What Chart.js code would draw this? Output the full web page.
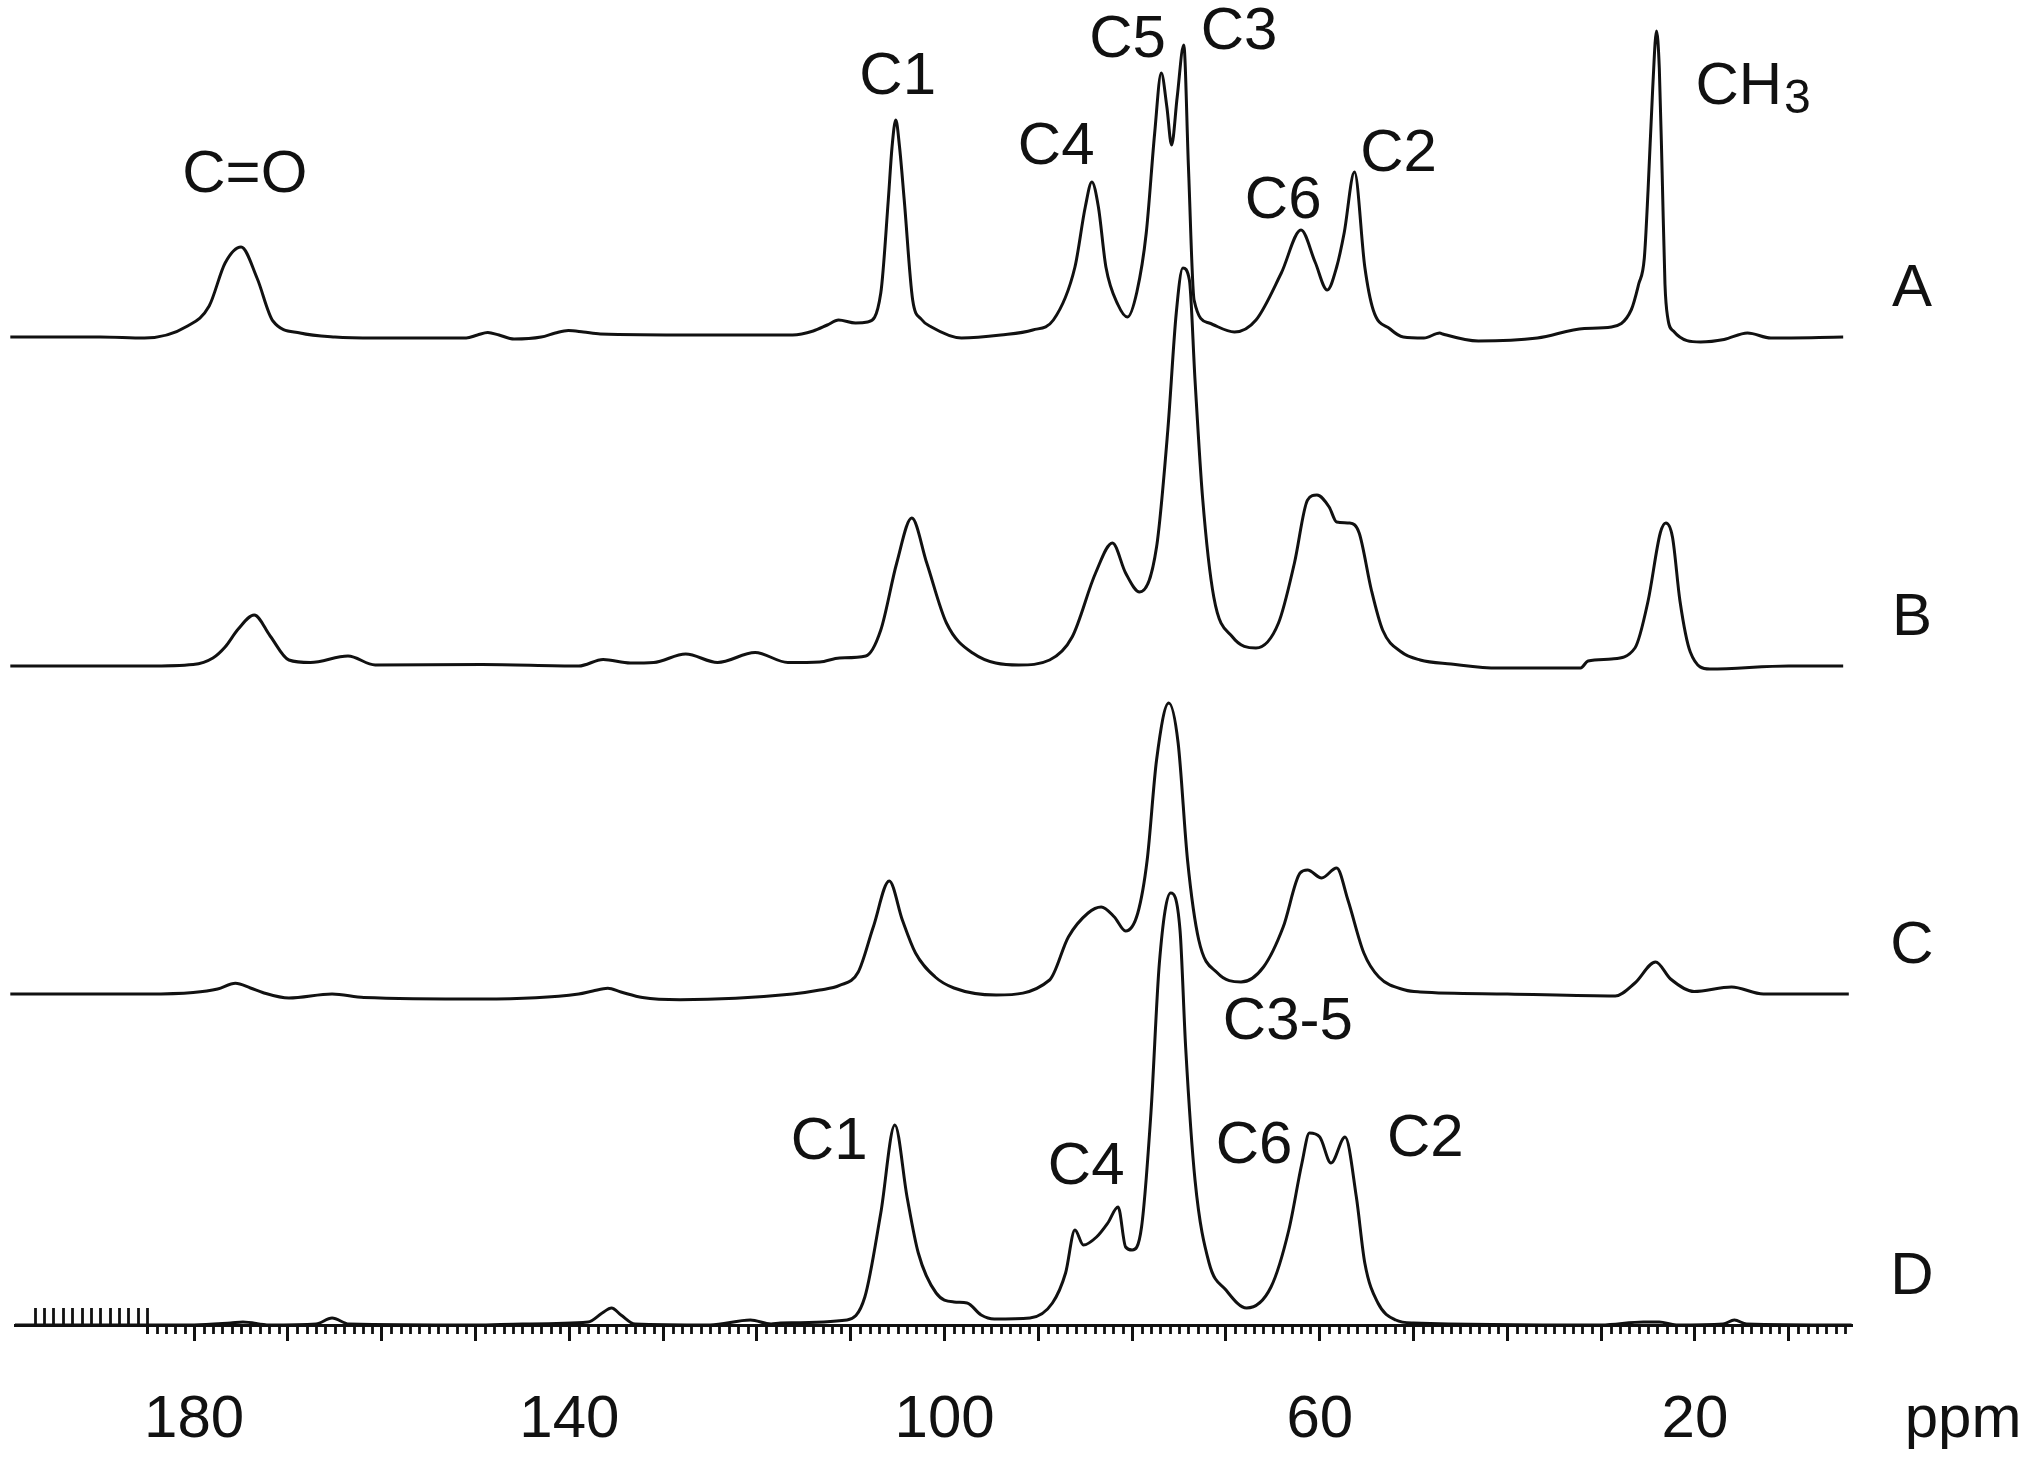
<!DOCTYPE html>
<html>
<head>
<meta charset="utf-8">
<script src="https://cdn.jsdelivr.net/npm/chart.js@4.4.1/dist/chart.umd.min.js"></script>
<style>
html,body{margin:0;padding:0;background:#ffffff;}
canvas{display:block;}
</style>
</head>
<body>
<canvas id="nmr" width="2032" height="1466"></canvas>
<script>
// ---------------- DATA (chemical shift in ppm, intensity in arbitrary units) ----------------
const spectrumNames = ['A', 'B', 'C', 'D'];

const spectrumA = [
  [199.6,0],[190,0],[185.3,-1],[180.7,11],[178.4,31],[176.7,74],[175.0,90],[173.3,59],[171.6,16],
  [168.7,4],[165,0],[160.7,-1],[151.0,-1],[149.8,2],[148.7,4.5],[147.5,2],[145.9,-2],[143.0,0],
  [141.5,4],[140.1,6.5],[138.5,5],[136.7,3],[126.5,2],[116.2,2],[114.0,6],[112.5,12],[111.3,17],
  [109.5,14],[108.2,15],[106.8,44],[106.0,137],[105.6,190],[105.2,217],[104.8,190],[104.3,137],
  [103.4,37],[102.5,18],[101.4,10],[98.2,-1],[94,2],[90.6,7],[88.4,17],[86.1,70],[85.0,130],
  [84.3,155],[83.6,130],[82.8,70],[81.5,32],[80.5,20],[79.5,45],[78.5,104],[77.6,204],[76.9,264],
  [76.3,230],[75.8,192],[75.2,240],[74.5,292],[74.0,170],[73.4,37],[71.8,14],[69.1,5],[66.8,17],
  [64.1,64],[62.0,107],[60.5,75],[59.2,47],[58.2,70],[57.4,104],[56.3,165],[55.2,70],[54.3,27],
  [52.5,8],[51.1,0],[48.9,-1],[47.2,4],[46.9,3],[43.1,-4],[36.8,-1],[31.8,8.5],[28.9,10],[26.8,27],
  [26.0,53],[25.4,79],[25.0,147],[24.5,250],[24.1,306],[23.8,268],[23.5,164],[23.2,53],[22.9,19],
  [22.3,6],[19.4,-5],[16.9,-2.5],[14.4,4],[11.9,-1],[4.2,0]
];

const spectrumB = [
  [199.6,0],[185,0],[180.1,1.5],[178,8],[176.7,19],[175.3,37],[173.6,51],[171.9,30],[169.9,6],
  [167.6,3.5],[163.6,10],[160.7,1],[149.3,1.5],[139.0,0],[136.4,6.5],[133.5,3],[131.0,3.5],
  [127.6,12],[124.2,3.5],[120.2,13.5],[116.7,3.5],[113.3,4],[111.2,8],[108.4,10],[106.8,36],
  [105.1,103],[103.5,148],[101.9,103],[99.8,43],[97.0,13],[92.1,1],[88.8,6],[86.4,29],[83.9,93],
  [82.1,123],[80.7,93],[79.2,74],[77.4,119],[76.2,236],[75.3,353],[74.6,398],[73.9,386],[73.3,286],
  [72.5,169],[71.3,69],[69.3,29],[66.8,18],[64.4,43],[62.7,103],[61.3,166],[60.3,171],[59.0,159],
  [58.2,144],[56.8,143],[55.8,133],[54.5,76],[53.3,36],[51.3,14],[49.3,6],[46,2],[41.0,-2],
  [32.2,-2],[31.4,5],[28.9,7],[26.4,18],[25.0,65],[23.7,133],[23.1,143],[22.4,129],[21.6,65],
  [20.5,14],[18.4,-3],[10,0],[4.2,0]
];

const spectrumC = [
  [199.6,0],[185,0],[180.1,1.5],[177.5,5],[175.6,10.7],[174,6],[172.7,1.5],[169.9,-4],[165.3,0],
  [161.9,-3.5],[149.3,-5],[139.0,0],[137.5,3],[135.9,5.7],[134.5,2],[132.2,-3.5],[128.2,-5.7],
  [116.2,0],[113.3,4],[111.2,8.6],[109.2,22],[107.6,67],[105.9,113],[104.5,74],[103.1,41],
  [101.0,17],[99.0,6],[94.5,-1],[88.8,14],[86.8,57],[84.7,81],[83.3,87],[81.9,77],[80.7,63],
  [79.4,81],[78.4,134],[77.4,234],[76.1,291],[75.1,251],[74.1,134],[72.9,54],[70.9,21],[68.4,12],
  [66.0,27],[63.9,67],[62.1,121],[61.3,124],[59.8,116],[58.2,126],[57.0,94],[55.3,41],[53.7,17],
  [50.9,4],[49.3,2],[40,0],[28.5,-2],[26.4,11],[24.2,32],[22.6,15],[20.1,2.5],[16.1,7],[12.7,0],
  [3.6,0]
];

const spectrumD = [
  [199.1,0],[180,0],[176.1,2],[174.8,3],[172,0],[167,1],[165.3,7],[163.5,1],[150,0],[145,1],
  [138,3],[136.5,12],[135.5,17],[134.5,10],[133,1],[125,0],[120.7,5],[118.5,1],[117.5,2],
  [110.4,5],[108.5,28],[106.8,112],[105.3,200],[104.0,128],[102.8,72],[100.9,32],[99.0,23],
  [97.6,22],[96.1,10],[94.7,6],[90.9,7],[88.5,22],[87.1,52],[86.1,95],[85.2,80],[83.8,88],
  [82.6,102],[81.5,118],[80.7,78],[80.0,75],[79.0,98],[78.0,212],[77.1,362],[75.9,432],
  [74.9,395],[74.3,278],[73.3,145],[71.8,62],[70.0,35],[67.8,17],[65.2,38],[63.3,95],[61.9,162],
  [61.1,192],[60.0,188],[58.8,162],[57.3,188],[56.1,128],[55.2,62],[53.8,22],[51.9,5],[50.0,2],
  [30,0],[25.5,3],[23.8,3],[22,0],[17,1],[15.8,5],[14.5,1],[3.3,0]
];

const tickLabelValues = [180, 140, 100, 60, 20];
const axisUnit = 'ppm';

// peak assignments: [text, subscript, ppm, intensity level]
const peakLabelsA = [
  ['C=O','',174.6,162],['C1','',105.0,260],['C4','',88.1,190],['C5','',80.5,297],
  ['C3','',68.6,305],['C6','',63.9,136],['C2','',51.6,183],['CH','3',13.8,250]
];
const peakLabelsD = [
  ['C1','',112.3,183],['C4','',84.9,158],['C3-5','',63.4,303],['C6','',67.0,179],['C2','',48.75,186]
];

// ---------------- LAYOUT / STYLE ----------------
const INK = '#111111';
const FONT = '"Liberation Sans", Arial, Helvetica, sans-serif';
const AREA_TOP = 5, AREA_BOTTOM = 1325;
const baselinePx = { A: 337, B: 666, C: 994, D: 1325 };
const spectra = { A: spectrumA, B: spectrumB, C: spectrumC, D: spectrumD };

const yScales = {};
spectrumNames.forEach(n => {
  yScales['y' + n] = {
    type: 'linear', display: false, position: 'left',
    min: baselinePx[n] - AREA_BOTTOM,
    max: baselinePx[n] - AREA_TOP
  };
});

const datasets = spectrumNames.map(n => ({
  label: n,
  data: spectra[n].map(p => ({ x: p[0], y: p[1] })),
  yAxisID: 'y' + n,
  borderColor: INK,
  borderWidth: 3,
  pointRadius: 0,
  fill: false,
  cubicInterpolationMode: 'monotone',
  clip: false
}));

const annotatePlugin = {
  id: 'annotate',
  afterDraw(chart) {
    const ctx = chart.ctx;
    const xs = chart.scales.x;
    const axisY = xs.top;
    ctx.save();
    ctx.strokeStyle = INK;
    ctx.lineWidth = 2.8;
    // minor ticks below the axis and the comb above it at the left end
    for (let v = 4; v <= 185; v++) {
      if (v % 10 === 0) continue;
      const px = Math.round(xs.getPixelForValue(v)) + 0.5;
      ctx.beginPath(); ctx.moveTo(px, axisY); ctx.lineTo(px, axisY + 9); ctx.stroke();
    }
    for (let v = 186; v <= 197; v++) {
      const px = Math.round(xs.getPixelForValue(v)) + 0.5;
      ctx.beginPath(); ctx.moveTo(px, axisY); ctx.lineTo(px, axisY - 17); ctx.stroke();
    }
    {
      const px = Math.round(xs.getPixelForValue(185)) + 0.5;
      ctx.beginPath(); ctx.moveTo(px, axisY + 9); ctx.lineTo(px, axisY - 17); ctx.stroke();
    }
    // text
    ctx.fillStyle = INK;
    ctx.textBaseline = 'middle';
    const drawLabel = (l, yScale) => {
      const [text, sub, ppm, level] = l;
      const px = xs.getPixelForValue(ppm);
      const py = yScale.getPixelForValue(level);
      ctx.font = '60px ' + FONT;
      if (!sub) {
        ctx.textAlign = 'center';
        ctx.fillText(text, px, py);
      } else {
        const w1 = ctx.measureText(text).width;
        ctx.font = '48px ' + FONT;
        const w2 = ctx.measureText(sub).width;
        const start = px - (w1 + w2 + 2) / 2;
        ctx.textAlign = 'left';
        ctx.font = '60px ' + FONT;
        ctx.fillText(text, start, py);
        ctx.font = '48px ' + FONT;
        ctx.fillText(sub, start + w1 + 2, py + 13);
      }
    };
    peakLabelsA.forEach(l => drawLabel(l, chart.scales.yA));
    peakLabelsD.forEach(l => drawLabel(l, chart.scales.yD));
    ctx.font = '60px ' + FONT;
    ctx.textAlign = 'center';
    spectrumNames.forEach(n => {
      ctx.fillText(n, chart.chartArea.right + 60, chart.scales['y' + n].getPixelForValue(48));
    });
    ctx.fillText(axisUnit, chart.chartArea.right + 111, axisY + 95);
    ctx.restore();
  }
};

new Chart(document.getElementById('nmr'), {
  type: 'line',
  data: { datasets },
  options: {
    responsive: false,
    animation: false,
    events: [],
    layout: { padding: { left: 15, right: 180, top: AREA_TOP, bottom: 0 } },
    plugins: { legend: { display: false }, tooltip: { enabled: false }, title: { display: false } },
    scales: Object.assign({
      x: {
        type: 'linear', position: 'bottom', reverse: true,
        min: 3.26, max: 199.1,
        afterFit: s => { s.height = 1466 - AREA_BOTTOM; },
        border: { display: true, color: INK, width: 3 },
        grid: {
          drawOnChartArea: false, drawTicks: true, tickLength: 16,
          tickColor: c => (c.tick && c.tick.value > 185 ? 'rgba(0,0,0,0)' : INK),
          tickWidth: 3
        },
        ticks: {
          stepSize: 10, autoSkip: false, includeBounds: false, maxRotation: 0, minRotation: 0,
          padding: 43, color: INK,
          font: { size: 60, family: FONT },
          callback: v => (tickLabelValues.includes(v) ? String(v) : '')
        }
      }
    }, yScales)
  },
  plugins: [annotatePlugin]
});
</script>
</body>
</html>
